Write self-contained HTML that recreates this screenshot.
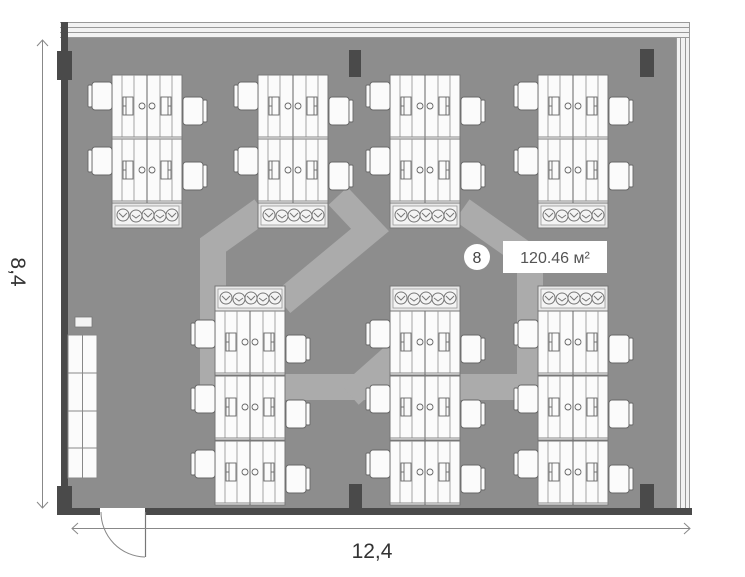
<!DOCTYPE html>
<html><head><meta charset="utf-8"><style>
html,body{margin:0;padding:0;background:#fff;width:745px;height:577px;overflow:hidden}
svg{display:block}
</style></head><body>
<svg width="745" height="577" viewBox="0 0 745 577" xmlns="http://www.w3.org/2000/svg">
<defs>
<g id="blk">
<rect x="0" y="0" width="70" height="64" fill="#fbfbfb" stroke="#777" stroke-width="1"/>
<g stroke="#9a9a9a" stroke-width="0.9">
<line x1="10" y1="0" x2="10" y2="62"/><line x1="22" y1="0" x2="22" y2="62"/>
<line x1="48" y1="0" x2="48" y2="62"/><line x1="60" y1="0" x2="60" y2="62"/>
</g>
<line x1="35" y1="0" x2="35" y2="64" stroke="#666" stroke-width="1"/>
<line x1="0" y1="62" x2="70" y2="62" stroke="#888" stroke-width="1"/>
<g fill="none" stroke="#666" stroke-width="0.9">
<rect x="11" y="22" width="10" height="18"/><line x1="14" y1="22" x2="14" y2="40"/><line x1="11" y1="31" x2="14" y2="31"/>
<rect x="49" y="22" width="10" height="18"/><line x1="56" y1="22" x2="56" y2="40"/><line x1="56" y1="31" x2="59" y2="31"/>
<circle cx="30" cy="31" r="3"/><circle cx="40" cy="31" r="3"/>
</g>
</g>
<g id="chL">
<rect x="4" y="0" width="20" height="28" rx="3" fill="#fbfbfb" stroke="#666" stroke-width="0.9"/>
<rect x="0" y="3" width="4" height="22" rx="1" fill="#fbfbfb" stroke="#666" stroke-width="0.9"/>
</g>
<g id="chR">
<rect x="1" y="0" width="20" height="28" rx="3" fill="#fbfbfb" stroke="#666" stroke-width="0.9"/>
<rect x="21" y="3" width="4" height="22" rx="1" fill="#fbfbfb" stroke="#666" stroke-width="0.9"/>
</g>
<g id="pl">
<rect x="0" y="0" width="70" height="25" fill="#e8e8e8" stroke="#777" stroke-width="1"/>
<rect x="3" y="3" width="64" height="19" fill="#f4f4f4" stroke="#999" stroke-width="0.8"/>
<g fill="none" stroke="#777" stroke-width="1">
<circle cx="11" cy="12" r="6"/><circle cx="24" cy="13" r="6"/><circle cx="36" cy="12" r="6"/><circle cx="48" cy="13" r="6"/><circle cx="60" cy="12" r="6"/>
<path d="M7 10 l4 4 l4 -4 M20 12 l4 3 l4 -3 M32 10 l4 4 l4 -4 M44 12 l4 3 l4 -3 M56 10 l4 4 l4 -4"/>
</g>
</g>
</defs>

<!-- floor -->
<rect x="68" y="38" width="608" height="470" fill="#8d8d8d"/>
<!-- walkway -->
<g fill="none" stroke="#ababab" stroke-width="26" stroke-linejoin="miter" stroke-linecap="butt">
<polyline points="262,210 213,245 213,387 530,387 530,258 462,210"/>
<polyline points="282,303 370,230 338,196"/>
<polyline points="350,395 395,355"/>
</g>

<!-- top walls -->
<rect x="60" y="22" width="630" height="16" fill="#f2f2f2"/>
<g stroke="#999" stroke-width="1">
<line x1="60" y1="22.5" x2="690" y2="22.5"/><line x1="60" y1="27.5" x2="690" y2="27.5"/>
<line x1="60" y1="32.5" x2="690" y2="32.5"/><line x1="60" y1="37.5" x2="690" y2="37.5"/>
</g>
<rect x="676" y="38" width="14" height="472" fill="#f2f2f2"/>
<g stroke="#999" stroke-width="1">
<line x1="676.5" y1="38" x2="676.5" y2="510"/><line x1="680.5" y1="38" x2="680.5" y2="510"/>
<line x1="685.5" y1="38" x2="685.5" y2="510"/><line x1="689.5" y1="22" x2="689.5" y2="510"/>
</g>
<rect x="61" y="22" width="7" height="490" fill="#4a4a4a"/>
<rect x="58" y="508" width="42" height="7" fill="#4a4a4a"/>
<rect x="145" y="508" width="547" height="7" fill="#4a4a4a"/>
<!-- columns -->
<g fill="#4a4a4a">
<rect x="57" y="51" width="15" height="29"/>
<rect x="349" y="50" width="12" height="27"/>
<rect x="640" y="49" width="14" height="28"/>
<rect x="57" y="486" width="15" height="29"/>
<rect x="349" y="484" width="13" height="28"/>
<rect x="640" y="484" width="14" height="28"/>
</g>

<!-- cabinets -->
<rect x="75" y="317" width="17" height="10" fill="#f4f4f4" stroke="#777" stroke-width="0.8"/>
<rect x="68" y="335" width="29" height="143" fill="#fbfbfb" stroke="#888" stroke-width="1"/>
<g stroke="#888" stroke-width="1">
<line x1="82.5" y1="335" x2="82.5" y2="478"/>
<line x1="68" y1="373" x2="97" y2="373"/><line x1="68" y1="411" x2="97" y2="411"/><line x1="68" y1="448" x2="97" y2="448"/>
</g>

<!-- door -->
<line x1="145.5" y1="512" x2="145.5" y2="557" stroke="#777" stroke-width="1.2"/>
<path d="M101 512 A45 45 0 0 0 145 557" fill="none" stroke="#888" stroke-width="1"/>

<!-- top clusters -->
<g>
<use href="#blk" x="112" y="75"/><use href="#blk" x="112" y="139"/><use href="#pl" x="112" y="203"/>
<use href="#chL" x="88" y="82"/><use href="#chL" x="88" y="147"/><use href="#chR" x="182" y="97"/><use href="#chR" x="182" y="162"/>
<use href="#blk" x="258" y="75"/><use href="#blk" x="258" y="139"/><use href="#pl" x="258" y="203"/>
<use href="#chL" x="234" y="82"/><use href="#chL" x="234" y="147"/><use href="#chR" x="328" y="97"/><use href="#chR" x="328" y="162"/>
<use href="#blk" x="390" y="75"/><use href="#blk" x="390" y="139"/><use href="#pl" x="390" y="203"/>
<use href="#chL" x="366" y="82"/><use href="#chL" x="366" y="147"/><use href="#chR" x="460" y="97"/><use href="#chR" x="460" y="162"/>
<use href="#blk" x="538" y="75"/><use href="#blk" x="538" y="139"/><use href="#pl" x="538" y="203"/>
<use href="#chL" x="514" y="82"/><use href="#chL" x="514" y="147"/><use href="#chR" x="608" y="97"/><use href="#chR" x="608" y="162"/>
</g>
<!-- bottom clusters -->
<g>
<use href="#pl" x="215" y="286"/>
<use href="#blk" x="215" y="311"/><use href="#blk" x="215" y="376"/><use href="#blk" x="215" y="441"/>
<use href="#chL" x="191" y="320"/><use href="#chL" x="191" y="385"/><use href="#chL" x="191" y="450"/>
<use href="#chR" x="285" y="335"/><use href="#chR" x="285" y="400"/><use href="#chR" x="285" y="465"/>
<use href="#pl" x="390" y="286"/>
<use href="#blk" x="390" y="311"/><use href="#blk" x="390" y="376"/><use href="#blk" x="390" y="441"/>
<use href="#chL" x="366" y="320"/><use href="#chL" x="366" y="385"/><use href="#chL" x="366" y="450"/>
<use href="#chR" x="460" y="335"/><use href="#chR" x="460" y="400"/><use href="#chR" x="460" y="465"/>
<use href="#pl" x="538" y="286"/>
<use href="#blk" x="538" y="311"/><use href="#blk" x="538" y="376"/><use href="#blk" x="538" y="441"/>
<use href="#chL" x="514" y="320"/><use href="#chL" x="514" y="385"/><use href="#chL" x="514" y="450"/>
<use href="#chR" x="608" y="335"/><use href="#chR" x="608" y="400"/><use href="#chR" x="608" y="465"/>
</g>

<!-- label -->
<circle cx="477" cy="257" r="13" fill="#fff"/>
<text x="477" y="263" text-anchor="middle" font-family="Liberation Sans, sans-serif" font-size="16" fill="#444">8</text>
<rect x="503" y="241" width="104" height="32" fill="#fff"/>
<text x="555" y="263" text-anchor="middle" font-family="Liberation Sans, sans-serif" font-size="16" fill="#555">120.46 м²</text>

<!-- dimensions -->
<g stroke="#888" stroke-width="1" fill="none">
<line x1="42.5" y1="40" x2="42.5" y2="508"/>
<polyline points="37,46 42.5,40 48,46"/>
<polyline points="37,502 42.5,508 48,502"/>
<line x1="72" y1="528.5" x2="690" y2="528.5"/>
<polyline points="78,523 72,528.5 78,534"/>
<polyline points="684,523 690,528.5 684,534"/>
</g>
<text x="372" y="558" text-anchor="middle" font-family="Liberation Sans, sans-serif" font-size="21" fill="#333">12,4</text>
<text transform="translate(11,272) rotate(90)" text-anchor="middle" font-family="Liberation Sans, sans-serif" font-size="21" fill="#333">8,4</text>
</svg>
</body></html>
